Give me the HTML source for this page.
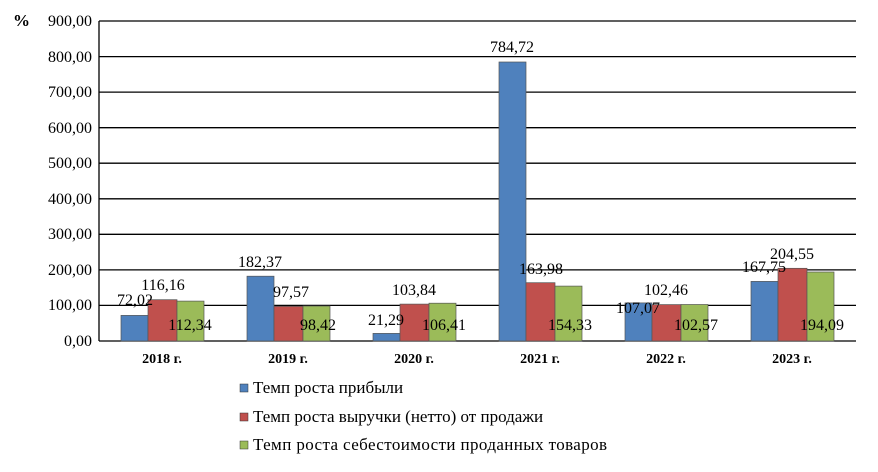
<!DOCTYPE html><html><head><style>body{margin:0;background:#fff}</style></head><body>
<svg width="878" height="467" xmlns="http://www.w3.org/2000/svg" font-family="Liberation Serif, serif">
<g stroke="#000" stroke-width="1.3">
<line x1="99" y1="21" x2="856" y2="21"/><line x1="99" y1="56.6" x2="856" y2="56.6"/><line x1="99" y1="92.1" x2="856" y2="92.1"/><line x1="99" y1="127.7" x2="856" y2="127.7"/><line x1="99" y1="163.2" x2="856" y2="163.2"/><line x1="99" y1="198.8" x2="856" y2="198.8"/><line x1="99" y1="234.3" x2="856" y2="234.3"/><line x1="99" y1="269.9" x2="856" y2="269.9"/><line x1="99" y1="305.4" x2="856" y2="305.4"/><line x1="99" y1="341" x2="856" y2="341"/>
<line x1="99" y1="21" x2="99" y2="341"/>
</g>
<g font-size="16" text-anchor="end" fill="#000">
<text x="92" y="26">900,00</text><text x="92" y="62">800,00</text><text x="92" y="97">700,00</text><text x="92" y="133">600,00</text><text x="92" y="168">500,00</text><text x="92" y="204">400,00</text><text x="92" y="239">300,00</text><text x="92" y="275">200,00</text><text x="92" y="310">100,00</text><text x="92" y="346">0,00</text>
<text x="30" y="26" font-size="17" font-weight="bold">%</text>
</g>
<g stroke="#555" stroke-width="0.7">
<rect x="121" y="315.4" width="27" height="25.6" fill="#4f81bd"/><rect x="148" y="299.7" width="29" height="41.3" fill="#c0504d"/><rect x="177" y="301.1" width="27" height="39.9" fill="#9bbb59"/>
<rect x="247" y="276.2" width="27" height="64.8" fill="#4f81bd"/><rect x="274" y="306.3" width="29" height="34.7" fill="#c0504d"/><rect x="303" y="306" width="27" height="35" fill="#9bbb59"/>
<rect x="373" y="333.4" width="27" height="7.6" fill="#4f81bd"/><rect x="400" y="304.1" width="29" height="36.9" fill="#c0504d"/><rect x="429" y="303.2" width="27" height="37.8" fill="#9bbb59"/>
<rect x="499" y="62" width="27" height="279" fill="#4f81bd"/><rect x="526" y="282.7" width="29" height="58.3" fill="#c0504d"/><rect x="555" y="286.1" width="27" height="54.9" fill="#9bbb59"/>
<rect x="625" y="302.9" width="27" height="38.1" fill="#4f81bd"/><rect x="652" y="304.6" width="29" height="36.4" fill="#c0504d"/><rect x="681" y="304.5" width="27" height="36.5" fill="#9bbb59"/>
<rect x="751" y="281.4" width="27" height="59.6" fill="#4f81bd"/><rect x="778" y="268.3" width="29" height="72.7" fill="#c0504d"/><rect x="807" y="272" width="27" height="69" fill="#9bbb59"/>
</g>
<g font-size="16" fill="#000" text-anchor="middle">
<text x="135" y="305">72,02</text><text x="163" y="290">116,16</text><text x="190" y="330">112,34</text>
<text x="260" y="267">182,37</text><text x="291" y="297">97,57</text><text x="318" y="330">98,42</text>
<text x="386" y="325">21,29</text><text x="414" y="295">103,84</text><text x="444" y="330">106,41</text>
<text x="512" y="52">784,72</text><text x="541" y="274">163,98</text><text x="570" y="330">154,33</text>
<text x="638" y="313">107,07</text><text x="666" y="295">102,46</text><text x="696" y="330">102,57</text>
<text x="764" y="272">167,75</text><text x="792" y="259">204,55</text><text x="822" y="330">194,09</text>
</g>
<g font-size="14" font-weight="bold" text-anchor="middle">
<text x="162" y="363">2018 г.</text><text x="288" y="363">2019 г.</text><text x="414" y="363">2020 г.</text><text x="540" y="363">2021 г.</text><text x="666" y="363">2022 г.</text><text x="792" y="363">2023 г.</text>
</g>
<g font-size="17">
<rect x="240" y="384" width="8" height="8" fill="#4f81bd" stroke="#333" stroke-width="0.5"/><text x="253" y="393">Темп роста прибыли</text>
<rect x="240" y="413" width="8" height="8" fill="#c0504d" stroke="#333" stroke-width="0.5"/><text x="253" y="422">Темп роста выручки (нетто)  от продажи</text>
<rect x="240" y="441" width="8" height="8" fill="#9bbb59" stroke="#333" stroke-width="0.5"/><text x="253" y="450" textLength="354">Темп роста себестоимости  проданных  товаров</text>
</g>
</svg></body></html>
